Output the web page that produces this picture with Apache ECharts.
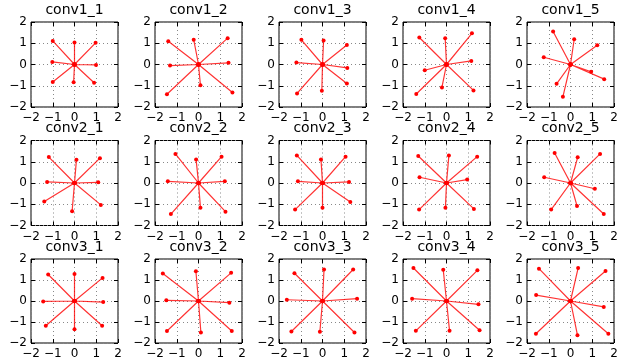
<!DOCTYPE html>
<html>
<head>
<meta charset="utf-8">
<script src="https://cdn.jsdelivr.net/npm/echarts@6/dist/echarts.min.js"></script>
<style>
  html, body { margin: 0; padding: 0; background: #fff; }
  #chart { width: 627px; height: 360px; }
</style>
</head>
<body>
<div id="chart"></div>
<script>
// panel titles, row by row
const titles = ['conv1_1', 'conv1_2', 'conv1_3', 'conv1_4', 'conv1_5',
                'conv2_1', 'conv2_2', 'conv2_3', 'conv2_4', 'conv2_5',
                'conv3_1', 'conv3_2', 'conv3_3', 'conv3_4', 'conv3_5']

// tick values shared by all axes
const ticks = [-2, -1, 0, 1, 2]

// end points of the 8 spokes in each panel (x, y)
const conv1_1 = [[-1.0, 1.11], [0.0, 1.03], [0.97, 1.02], [0.99, -0.02], [0.9, -0.86], [-0.04, -0.83], [-1.0, -0.82], [-1.02, 0.12]]
const conv1_2 = [[-1.39, 1.09], [-0.22, 1.17], [1.34, 1.24], [1.38, 0.08], [1.56, -1.32], [0.09, -0.98], [-1.45, -1.4], [-1.31, -0.05]]
const conv1_3 = [[-0.97, 1.16], [0.05, 1.13], [1.12, 0.92], [1.14, -0.16], [1.12, -0.89], [-0.03, -1.23], [-1.17, -1.36], [-1.2, 0.09]]
const conv1_4 = [[-1.25, 1.27], [-0.06, 1.23], [1.17, 1.47], [1.14, 0.17], [1.24, -1.22], [-0.21, -1.08], [-1.39, -1.39], [-1.0, -0.27]]
const conv1_5 = [[-0.8, 1.55], [0.17, 1.19], [1.23, 0.91], [1.55, -0.69], [0.95, -0.34], [-0.35, -1.52], [-0.64, -0.91], [-1.23, 0.34]]
const conv2_1 = [[-1.18, 1.22], [0.09, 1.1], [1.17, 1.17], [1.09, 0.03], [1.21, -1.03], [-0.11, -1.33], [-1.39, -0.87], [-1.26, 0.05]]
const conv2_2 = [[-1.06, 1.37], [-0.11, 1.11], [1.06, 1.24], [1.21, 0.08], [1.24, -1.35], [0.09, -1.17], [-1.27, -1.46], [-1.41, 0.08]]
const conv2_3 = [[-1.18, 1.3], [-0.07, 1.11], [1.06, 1.24], [1.22, 0.05], [1.28, -0.89], [0.0, -1.17], [-1.26, -1.25], [-1.13, 0.08]]
const conv2_4 = [[-1.3, 1.27], [0.11, 1.3], [1.41, 1.24], [0.95, 0.16], [1.26, -1.22], [-0.05, -1.17], [-1.26, -1.25], [-1.24, 0.27]]
const conv2_5 = [[-0.73, 1.41], [0.33, 1.21], [1.36, 1.37], [1.12, -0.27], [1.53, -1.46], [0.3, -1.08], [-0.89, -1.25], [-1.21, 0.27]]
const conv3_1 = [[-1.21, 1.26], [0.0, 1.28], [1.29, 1.1], [1.32, -0.05], [1.27, -1.18], [0.0, -1.34], [-1.32, -1.18], [-1.44, -0.02]]
const conv3_2 = [[-1.64, 1.31], [-0.12, 1.42], [1.5, 1.34], [1.42, -0.08], [1.53, -1.43], [0.11, -1.5], [-1.45, -1.43], [-1.48, 0.03]]
const conv3_3 = [[-1.29, 1.32], [0.07, 1.5], [1.41, 1.5], [1.59, 0.11], [1.47, -1.5], [-0.12, -1.46], [-1.43, -1.45], [-1.64, 0.06]]
const conv3_4 = [[-1.52, 1.57], [-0.15, 1.49], [1.42, 1.46], [1.47, -0.16], [1.52, -1.39], [0.14, -1.42], [-1.41, -1.42], [-1.58, 0.11]]
const conv3_5 = [[-1.45, 1.54], [0.35, 1.57], [1.61, 1.43], [1.53, -0.28], [1.74, -1.56], [0.32, -1.63], [-1.59, -1.56], [-1.58, 0.28]]

const panels = [conv1_1, conv1_2, conv1_3, conv1_4, conv1_5,
                conv2_1, conv2_2, conv2_3, conv2_4, conv2_5,
                conv3_1, conv3_2, conv3_3, conv3_4, conv3_5]

// layout of the 3x5 grid
const lefts = [31, 155, 279, 403, 527]
const tops = [22, 140.5, 259]
const plotW = 87
const plotH = 85

const fontFamily = 'DejaVu Sans'
const minusLabel = v => String(v).replace('-', '\u2212')

const grids = []
const xAxes = []
const yAxes = []
const titleList = []
const series = []

panels.forEach((points, i) => {
  const left = lefts[i % 5]
  const top = tops[Math.floor(i / 5)]

  grids.push({
    left: left, top: top, width: plotW, height: plotH,
    show: true, borderColor: '#000', borderWidth: 1, backgroundColor: '#fff'
  })

  titleList.push({
    text: titles[i],
    left: left + plotW / 2,
    top: top - 19,
    textAlign: 'center',
    padding: 0,
    textStyle: { fontFamily, fontSize: 14, fontWeight: 'normal', color: '#000' }
  })

  const common = {
    gridIndex: i,
    type: 'value',
    min: ticks[0],
    max: ticks[ticks.length - 1],
    interval: 1,
    axisLine: { show: false, onZero: false },
    axisTick: { show: true, inside: true, length: 4, lineStyle: { color: '#000' } },
    splitLine: { show: true, lineStyle: { color: '#888', type: [1, 3], width: 1 } },
    axisLabel: { fontFamily, fontSize: 12, color: '#000', formatter: minusLabel }
  }
  // mirrored axes only carry the inward ticks on the top and right sides
  const mirror = { splitLine: { show: false }, axisLabel: { show: false } }

  xAxes.push({ ...common, position: 'bottom', axisLabel: { ...common.axisLabel, margin: 5 } })
  xAxes.push({ ...common, ...mirror, position: 'top' })
  yAxes.push({ ...common, position: 'left', axisLabel: { ...common.axisLabel, margin: 4 } })
  yAxes.push({ ...common, ...mirror, position: 'right' })

  // spokes: origin -> point -> origin -> next point ...
  const path = []
  points.forEach(p => {
    path.push([0, 0])
    path.push(p)
  })
  path.push([0, 0])

  series.push({
    type: 'line',
    xAxisIndex: i * 2,
    yAxisIndex: i * 2,
    data: path,
    symbol: 'circle',
    symbolSize: 4,
    showSymbol: true,
    animation: false,
    lineStyle: { color: 'rgba(255, 0, 0, 0.8)', width: 1.2 },
    itemStyle: { color: '#ff0000' }
  })
})

const chart = echarts.init(document.getElementById('chart'))
chart.setOption({
  backgroundColor: '#fff',
  animation: false,
  title: titleList,
  grid: grids,
  xAxis: xAxes,
  yAxis: yAxes,
  series: series
})
</script>
</body>
</html>
